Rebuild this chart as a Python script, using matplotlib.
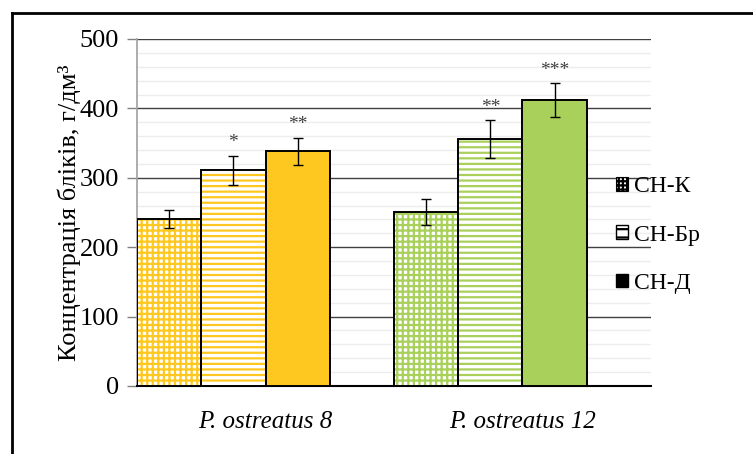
import matplotlib
matplotlib.use("Agg")
import matplotlib.pyplot as plt
from matplotlib.patches import Patch
from matplotlib.lines import Line2D
from matplotlib.ticker import MultipleLocator
import numpy as np

categories = ["P. ostreatus 8", "P. ostreatus 12"]
series = ["СН-К", "СН-Бр", "СН-Д"]
values_k = [240, 251]
values_br = [311, 356]
values_d = [338, 412]
err_k = [13, 19]
err_br = [21, 27]
err_d = [20, 24]
stars_k = ["", ""]
stars_br = ["*", "**"]
stars_d = ["**", "***"]
group_colors = ["#FFC820", "#A9D05A"]
y_ticks = [0, 100, 200, 300, 400, 500]

plt.rcParams["font.family"] = ["Liberation Serif", "DejaVu Serif"]
plt.rcParams["hatch.linewidth"] = 1.6

fig = plt.figure(figsize=(7.53, 4.54), dpi=100)
ax = fig.add_axes([137 / 753, 1 - 386 / 454, 514 / 753, (386 - 39) / 454])

vals = [values_k, values_br, values_d]
errs = [err_k, err_br, err_d]
stars = [stars_k, stars_br, stars_d]
hatches = ["+++", "---", None]

n_ser = len(series)
slot = n_ser + 1
for g, cat in enumerate(categories):
    col = group_colors[g]
    for s in range(n_ser):
        x = g * slot + s + 0.5
        v = vals[s][g]
        e = errs[s][g]
        if hatches[s] is None:
            ax.bar(x, v, width=1.0, color=col, edgecolor="none", zorder=3)
        else:
            ax.bar(x, v, width=1.0, color="white", edgecolor=col,
                   hatch=hatches[s], linewidth=0, zorder=3)
        ax.bar(x, v, width=1.0, fill=False, edgecolor="black",
               linewidth=1.4, zorder=4)
        ax.errorbar(x, v, yerr=e, fmt="none", ecolor="black",
                    elinewidth=1.0, capsize=3.5, capthick=1.0, zorder=5)
        if stars[s][g]:
            ax.annotate(stars[s][g], (x, v + e), xytext=(0, 3),
                        textcoords="offset points", ha="center", va="bottom",
                        fontsize=14, color="#404040", zorder=6)

ax.set_xlim(0, len(categories) * slot)
ax.set_ylim(0, 500)
ax.set_xticks([g * slot + slot / 2 for g in range(len(categories))])
ax.set_xticklabels(categories, fontsize=18, style="italic")
ax.tick_params(axis="x", length=0, pad=18)
ax.set_yticks(y_ticks)
ax.tick_params(axis="y", labelsize=19, length=7, width=1.0, color="#808080", pad=6)
ax.yaxis.set_minor_locator(MultipleLocator(20))
ax.tick_params(axis="y", which="minor", length=0)
ax.grid(axis="y", which="major", color="#404040", linewidth=1.0, zorder=0)
ax.grid(axis="y", which="minor", color="#EDEDED", linewidth=1.0, zorder=0)
ax.set_axisbelow(True)
for sp in ["top", "right"]:
    ax.spines[sp].set_visible(False)
ax.spines["left"].set_color("#A0A0A0")
ax.spines["left"].set_linewidth(1.2)
ax.spines["bottom"].set_color("black")
ax.spines["bottom"].set_linewidth(1.5)
ax.set_ylabel("Концентрація бліків, г/дм³", fontsize=19, labelpad=-1)

handles = [
    Patch(facecolor="white", edgecolor="black", hatch="++++", linewidth=0.8),
    Patch(facecolor="white", edgecolor="black", hatch="--", linewidth=1.0),
    Patch(facecolor="black", edgecolor="black"),
]
fig.legend(handles, series, loc="center left",
           bbox_to_anchor=(604 / 753, 1 - 235 / 454), frameon=False,
           fontsize=17, handlelength=0.5, handleheight=0.5,
           handletextpad=0.25, labelspacing=1.15, borderpad=0)

fig.add_artist(Line2D([12 / 753, 12 / 753], [0, 1 - 13 / 454],
                      transform=fig.transFigure, color="black", linewidth=2))
fig.add_artist(Line2D([12 / 753, 1], [1 - 13 / 454, 1 - 13 / 454],
                      transform=fig.transFigure, color="black", linewidth=2))

fig.savefig("out.png", dpi=100)
